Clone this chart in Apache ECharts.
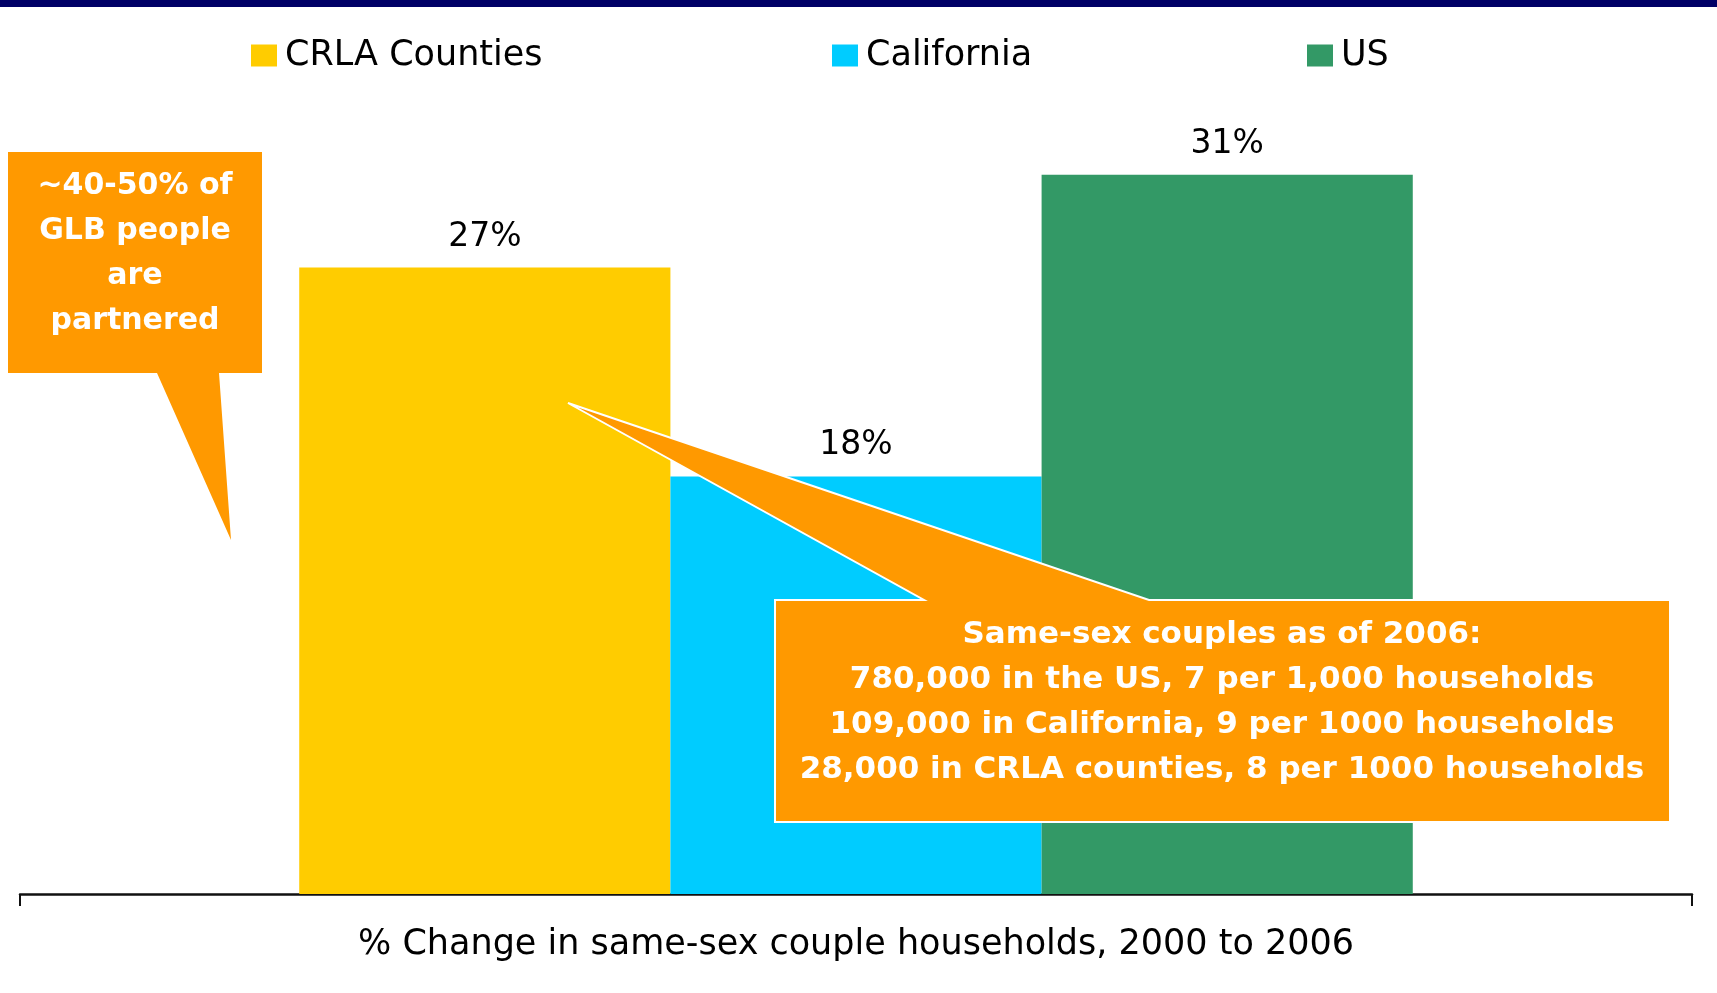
<!DOCTYPE html>
<html>
<head>
<meta charset="utf-8">
<title>Same-sex couple households</title>
<script src="https://cdn.jsdelivr.net/npm/echarts@6/dist/echarts.min.js"></script>
<style>
  html, body { margin: 0; padding: 0; background: #fff; }
  #chart { width: 1717px; height: 993px; }
</style>
</head>
<body>
<div id="chart"></div>
<script>
// data
var categories = ['% Change in same-sex couple households, 2000 to 2006'];
var seriesNames = ['CRLA Counties', 'California', 'US'];
var crlaValues = [27];
var californiaValues = [18];
var usValues = [31];

// callout texts
var leftNote = ['~40-50% of', 'GLB people', 'are', 'partnered'];
var rightNote = [
  'Same-sex couples as of 2006:',
  '780,000 in the US, 7 per 1,000 households',
  '109,000 in California, 9 per 1000 households',
  '28,000 in CRLA counties, 8 per 1000 households'
];

var chart = echarts.init(document.getElementById('chart'));
var font = 'DejaVu Sans';
var orange = '#FF9900';

function legendAt(name, left) {
  return {
    data: [name],
    left: left,
    top: 33,
    itemWidth: 26,
    itemHeight: 22,
    icon: 'rect',
    selectedMode: false,
    textStyle: { fontFamily: font, fontSize: 35, color: '#000', padding: [0, 0, 0, 3] }
  };
}

function barSeries(name, values, color) {
  return {
    name: name,
    type: 'bar',
    data: values,
    barGap: '0%',
    barCategoryGap: '33.4%',
    itemStyle: { color: color },
    label: {
      show: true,
      position: 'top',
      distance: 14,
      formatter: '{c}%',
      fontFamily: font,
      fontSize: 33,
      color: '#000'
    }
  };
}

chart.setOption({
  animation: false,
  legend: [
    legendAt(seriesNames[0], 246),
    legendAt(seriesNames[1], 827),
    legendAt(seriesNames[2], 1302)
  ],
  grid: { left: 20, right: 25, top: 82, bottom: 99 },
  xAxis: {
    type: 'category',
    data: categories,
    axisLine: { lineStyle: { color: '#111', width: 2.5 } },
    axisTick: { show: true, length: 12, lineStyle: { color: '#111', width: 2 } },
    axisLabel: { margin: 33, fontFamily: font, fontSize: 35, color: '#000' }
  },
  yAxis: { type: 'value', min: 0, max: 35, show: false },
  series: [
    barSeries(seriesNames[0], crlaValues, '#FFCC00'),
    barSeries(seriesNames[1], californiaValues, '#00CCFF'),
    barSeries(seriesNames[2], usValues, '#339966')
  ],
  graphic: [
    // navy strip along the top of the slide
    { type: 'rect', z: 100, left: 0, top: 0, shape: { width: 1717, height: 7 }, style: { fill: '#000066' } },
    // left speech bubble
    {
      type: 'polygon', z: 100,
      shape: { points: [[8, 152], [262, 152], [262, 373], [219, 373], [231, 540], [157, 373], [8, 373]] },
      style: { fill: orange }
    },
    {
      type: 'text', z: 101,
      x: 135, y: 254,
      style: {
        text: leftNote.join('\n'),
        align: 'center', verticalAlign: 'middle',
        fontFamily: font, fontWeight: 'bold', fontSize: 30, lineHeight: 45,
        fill: '#fff'
      }
    },
    // right speech bubble pointing at the CRLA bar
    {
      type: 'polygon', z: 100,
      shape: { points: [[775, 600], [924, 600], [568, 403], [1149, 600], [1670, 600], [1670, 822], [775, 822]] },
      style: { fill: orange, stroke: '#fff', lineWidth: 2 }
    },
    {
      type: 'text', z: 101,
      x: 1222, y: 702,
      style: {
        text: rightNote.join('\n'),
        align: 'center', verticalAlign: 'middle',
        fontFamily: font, fontWeight: 'bold', fontSize: 31, lineHeight: 45,
        fill: '#fff'
      }
    }
  ]
});
</script>
</body>
</html>
